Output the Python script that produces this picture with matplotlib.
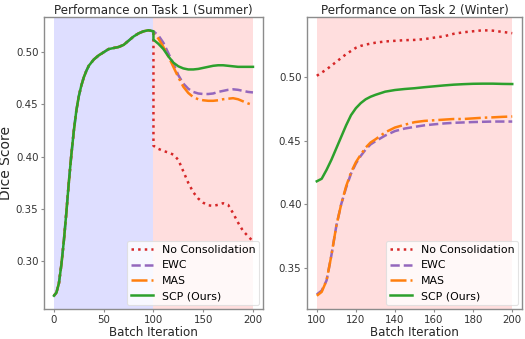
import matplotlib
matplotlib.use("Agg")
import matplotlib.pyplot as plt

# ---- data ----
x_stage1 = [0, 2.5, 5, 7.5, 10, 12.5, 15, 17.5, 20, 22.5, 25, 27.5, 30, 32.5, 35, 40, 45, 50,
            55, 60, 65, 70, 75, 80, 85, 90, 95, 100]
train_stage1 = [0.267, 0.270, 0.279, 0.297, 0.320, 0.347, 0.376, 0.402, 0.425, 0.444, 0.458,
                0.468, 0.476, 0.482, 0.487, 0.493, 0.497, 0.500, 0.503, 0.504, 0.505, 0.507,
                0.511, 0.515, 0.518, 0.520, 0.521, 0.520]

x_stage2 = list(range(100, 201, 5))
task1_nocons = [0.4105, 0.4075, 0.4055, 0.404, 0.402, 0.397, 0.386, 0.375, 0.366, 0.360, 0.356,
                0.3535, 0.353, 0.354, 0.3555, 0.354, 0.346, 0.337, 0.329, 0.324, 0.319]
task1_ewc = [0.520, 0.516, 0.509, 0.499, 0.489, 0.478, 0.470, 0.465, 0.462, 0.4605, 0.460,
             0.460, 0.4605, 0.462, 0.463, 0.464, 0.4645, 0.464, 0.463, 0.462, 0.4615]
task1_mas = [0.518, 0.513, 0.505, 0.496, 0.486, 0.476, 0.467, 0.461, 0.457, 0.455, 0.454,
             0.4535, 0.4535, 0.454, 0.455, 0.4555, 0.456, 0.455, 0.453, 0.451, 0.4495]
task1_scp = [0.512, 0.508, 0.503, 0.496, 0.490, 0.4865, 0.4845, 0.4835, 0.4835, 0.484, 0.485,
             0.486, 0.487, 0.4875, 0.4875, 0.487, 0.4865, 0.486, 0.486, 0.486, 0.486]

x_task2 = [100, 102.5, 105, 107.5, 110, 112.5, 115, 117.5, 120, 122.5, 125, 127.5, 130,
           135, 140, 145, 150, 155, 160, 165, 170, 175, 180, 185, 190, 195, 200]
task2_nocons = [0.501, 0.5035, 0.506, 0.509, 0.512, 0.515, 0.518, 0.5205, 0.523, 0.5245, 0.5255,
                0.5263, 0.527, 0.528, 0.5285, 0.529, 0.5292, 0.5298, 0.531, 0.532, 0.534,
                0.5352, 0.536, 0.5368, 0.5365, 0.5355, 0.5345]
task2_ewc = [0.329, 0.332, 0.340, 0.360, 0.383, 0.400, 0.413, 0.424, 0.432, 0.438, 0.443,
             0.447, 0.4495, 0.454, 0.4575, 0.4595, 0.4608, 0.462, 0.4628, 0.4635, 0.464,
             0.4643, 0.4646, 0.4648, 0.465, 0.465, 0.465]
task2_mas = [0.328, 0.331, 0.340, 0.360, 0.383, 0.400, 0.414, 0.425, 0.433, 0.439, 0.4445,
             0.4485, 0.451, 0.4565, 0.4603, 0.4625, 0.4645, 0.4655, 0.466, 0.4665, 0.467,
             0.467, 0.4675, 0.468, 0.4683, 0.4687, 0.469]
task2_scp = [0.418, 0.420, 0.427, 0.435, 0.444, 0.453, 0.462, 0.470, 0.4755, 0.4795, 0.4825,
             0.4845, 0.486, 0.4885, 0.4898, 0.4906, 0.4912, 0.492, 0.4927, 0.4934, 0.494,
             0.4944, 0.4947, 0.4948, 0.4948, 0.4946, 0.4945]

labels = ["No Consolidation", "EWC", "MAS", "SCP (Ours)"]
colors = ["#d62728", "#9467bd", "#ff7f0e", "#2ca02c"]
styles = [":", "--", "-.", "-"]

fig = plt.figure(figsize=(5.25, 3.39), dpi=100)
ax1 = fig.add_axes([0.0838, 0.0885, 0.417, 0.8614])
ax2 = fig.add_axes([0.5848, 0.0885, 0.4095, 0.8614])

spine_col = "#8c8c8c"
tick_col = "#333333"

task1 = [task1_nocons, task1_ewc, task1_mas, task1_scp]
for lab, c, ls, y2 in zip(labels, colors, styles, task1):
    xs = x_stage1 + x_stage2
    ys = train_stage1 + y2
    ax1.plot(xs, ys, color=c, linestyle=ls, linewidth=1.8, label=lab)
ax1.axvspan(0, 100, color="blue", alpha=0.13, lw=0)
ax1.axvspan(100, 200, color="red", alpha=0.13, lw=0)
ax1.set_title("Performance on Task 1 (Summer)", fontsize=8.6, color="#262626", pad=2)
ax1.set_xlabel("Batch Iteration", fontsize=8.6, color="#262626", labelpad=1)
ax1.set_ylabel("Dice Score", fontsize=10, color="#262626", labelpad=2)
ax1.set_xticks([0, 50, 100, 150, 200])
ax1.set_yticks([0.30, 0.35, 0.40, 0.45, 0.50])
ax1.set_yticklabels(["0.30", "0.35", "0.40", "0.45", "0.50"])

task2 = [task2_nocons, task2_ewc, task2_mas, task2_scp]
for lab, c, ls, y2 in zip(labels, colors, styles, task2):
    ax2.plot(x_task2, y2, color=c, linestyle=ls, linewidth=1.8, label=lab)
ax2.axvspan(100, 200, color="red", alpha=0.13, lw=0)
ax2.set_title("Performance on Task 2 (Winter)", fontsize=8.6, color="#262626", pad=2)
ax2.set_xlabel("Batch Iteration", fontsize=8.6, color="#262626", labelpad=1)
ax2.set_xticks([100, 120, 140, 160, 180, 200])
ax2.set_yticks([0.35, 0.40, 0.45, 0.50])
ax2.set_yticklabels(["0.35", "0.40", "0.45", "0.50"])

for ax in (ax1, ax2):
    for s in ax.spines.values():
        s.set_color(spine_col)
        s.set_linewidth(1.0)
    ax.tick_params(labelsize=7.4, colors=spine_col, labelcolor=tick_col, length=2.5, width=0.8, pad=1.5)
    leg = ax.legend(loc="lower right", fontsize=7.9, framealpha=0.8, edgecolor="#dddddd",
                    borderaxespad=0.35, handlelength=2.0, labelspacing=0.5, borderpad=0.35,
                    handletextpad=0.8)
    leg.get_frame().set_linewidth(0.8)

fig.savefig("out.png", dpi=100)
